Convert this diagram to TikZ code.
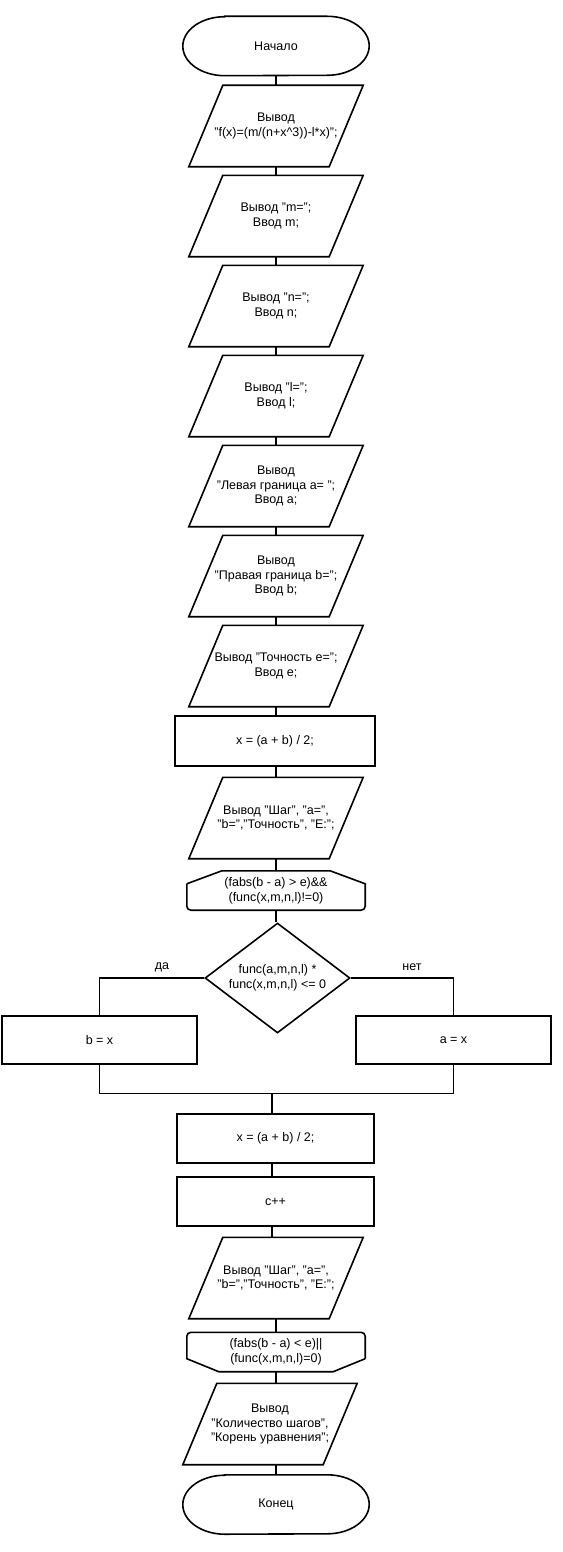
\documentclass[tikz,border=0pt]{standalone}
\usepackage{fontspec}
\setmainfont{Liberation Sans}
\usetikzlibrary{shapes.geometric,shapes.misc}
\tikzset{
  shapeline/.style={draw=black, line width=1.6pt, line join=miter},
  conn/.style={draw=black, line width=1.6pt},
  txt/.style={font=\fontsize{12.5}{14.8}\selectfont, align=center, inner sep=0pt},
  term/.style={txt, rectangle, minimum width=186pt, minimum height=59pt,
    append after command={\pgfextra{\draw[shapeline]
      ([xshift=42pt]\tikzlastnode.north west) -- ([xshift=-42pt]\tikzlastnode.north east)
      arc[start angle=90, end angle=-90, x radius=42pt, y radius=29.5pt]
      -- ([xshift=42pt]\tikzlastnode.south west)
      arc[start angle=270, end angle=90, x radius=42pt, y radius=29.5pt] -- cycle;}}},
  proc/.style={txt, shapeline, rectangle, minimum width=200pt, minimum height=50pt},
  side/.style={txt, shapeline, rectangle, minimum width=195pt, minimum height=48pt},
  para/.style={txt, rectangle, minimum width=140pt, minimum height=81pt,
    append after command={\pgfextra{\draw[shapeline]
      ([xshift=-17pt]\tikzlastnode.south west) -- ([xshift=17pt]\tikzlastnode.north west) --
      ([xshift=17pt]\tikzlastnode.north east) -- ([xshift=-17pt]\tikzlastnode.south east) -- cycle;}}},
  loopstart/.style={txt, rectangle, minimum width=178pt, minimum height=39pt,
    append after command={\pgfextra{\draw[shapeline]
      ([yshift=-13pt]\tikzlastnode.north west) -- ([xshift=35pt]\tikzlastnode.north west) --
      ([xshift=-35pt]\tikzlastnode.north east) -- ([yshift=-13pt]\tikzlastnode.north east)
      [rounded corners=4pt] -- (\tikzlastnode.south east) -- (\tikzlastnode.south west) -- 
      ([yshift=-13pt]\tikzlastnode.north west);}}},
  loopend/.style={txt, rectangle, minimum width=178pt, minimum height=39pt,
    append after command={\pgfextra{\draw[shapeline]
      ([yshift=13pt]\tikzlastnode.south east) -- ([xshift=-32pt]\tikzlastnode.south east) --
      ([xshift=32pt]\tikzlastnode.south west) -- ([yshift=13pt]\tikzlastnode.south west)
      [rounded corners=4pt] -- (\tikzlastnode.north west) -- (\tikzlastnode.north east) --
      ([yshift=13pt]\tikzlastnode.south east);}}},
  dia/.style={txt, shapeline, diamond, aspect=1.318, minimum width=145pt, minimum height=110pt},
  lbl/.style={txt}
}
\begin{document}
\begin{tikzpicture}[x=1pt,y=-1pt]
\useasboundingbox (0,0) rectangle (562,1552);
\node[term] (start) at (276,46) {Начало};
\node[para] (p1) at (276,126) {Вывод\\"f(x)=(m/(n+x\textasciicircum 3))-l*x)";};
\node[para] (p2) at (276,216) {Вывод "m=";\\Ввод m;};
\node[para] (p3) at (276,306) {Вывод "n=";\\Ввод n;};
\node[para] (p4) at (276,396) {Вывод "l=";\\Ввод l;};
\node[para] (p5) at (276,486) {Вывод\\"Левая граница a= ";\\Ввод a;};
\node[para] (p6) at (276,576) {Вывод\\"Правая граница b=";\\Ввод b;};
\node[para] (p7) at (276,666) {Вывод "Точность e=";\\Ввод e;};
\node[proc] (r1) at (275,741) {x = (a + b) / 2;};
\node[para] (p8) at (276,818) {Вывод "Шаг", "a=",\\"b=","Точность", "E:";};
\node[loopstart] (ls) at (276,890.5) {(fabs(b - a) > e)\&\&\\(func(x,m,n,l)!=0)};
\node[dia] (d) at (277.5,978) {func(a,m,n,l) *\\func(x,m,n,l) <= 0};
\node[side] (bx) at (99.5,1040) {b = x};
\node[side] (ax) at (453.5,1040) {a = x};
\node[lbl] (yes) at (162,967) {да};
\node[lbl] (no) at (412,967) {нет};
\coordinate (J) at (272,1093.5);
\node[proc, minimum width=197pt, minimum height=49pt] (r2) at (275.5,1138.5) {x = (a + b) / 2;};
\node[proc, minimum width=197pt, minimum height=49pt] (r3) at (275.5,1201.5) {c++};
\node[para] (p9) at (276,1278) {Вывод "Шаг", "a=",\\"b=","Точность", "E:";};
\node[loopend] (le) at (276,1352) {(fabs(b - a) < e)||\\(func(x,m,n,l)=0)};
\node[para] (p10) at (270,1424) {Вывод\\"Количество шагов",\\"Корень уравнения";};
\node[term] (end) at (276,1504.5) {Конец};

\draw[conn] (start.south) -- (p1.north);
\draw[conn] (p1.south) -- (p2.north);
\draw[conn] (p2.south) -- (p3.north);
\draw[conn] (p3.south) -- (p4.north);
\draw[conn] (p4.south) -- (p5.north);
\draw[conn] (p5.south) -- (p6.north);
\draw[conn] (p6.south) -- (p7.north);
\draw[conn] (p7.south) -- (p7.south |- r1.north);
\draw[conn] (r1.south -| p8.north) -- (p8.north);
\draw[conn] (p8.south) -- (ls.north);
\draw[conn] (ls.south) -- (ls.south |- d.north);
\draw[conn] (d.west) -| (bx.north);
\draw[conn] (d.east) -| (ax.north);
\draw[conn] (bx.south) |- (J);
\draw[conn] (ax.south) |- (J);
\draw[conn] (J) -- (J |- r2.north);
\draw[conn] (r2.south -| J) -- (r3.north -| J);
\draw[conn] (r3.south -| J) -- (p9.north -| J);
\draw[conn] (p9.south) -- (le.north);
\draw[conn] (le.south) -- (le.south |- p10.north);
\draw[conn] (p10.south -| end.north) -- (end.north);
\end{tikzpicture}
\end{document}
